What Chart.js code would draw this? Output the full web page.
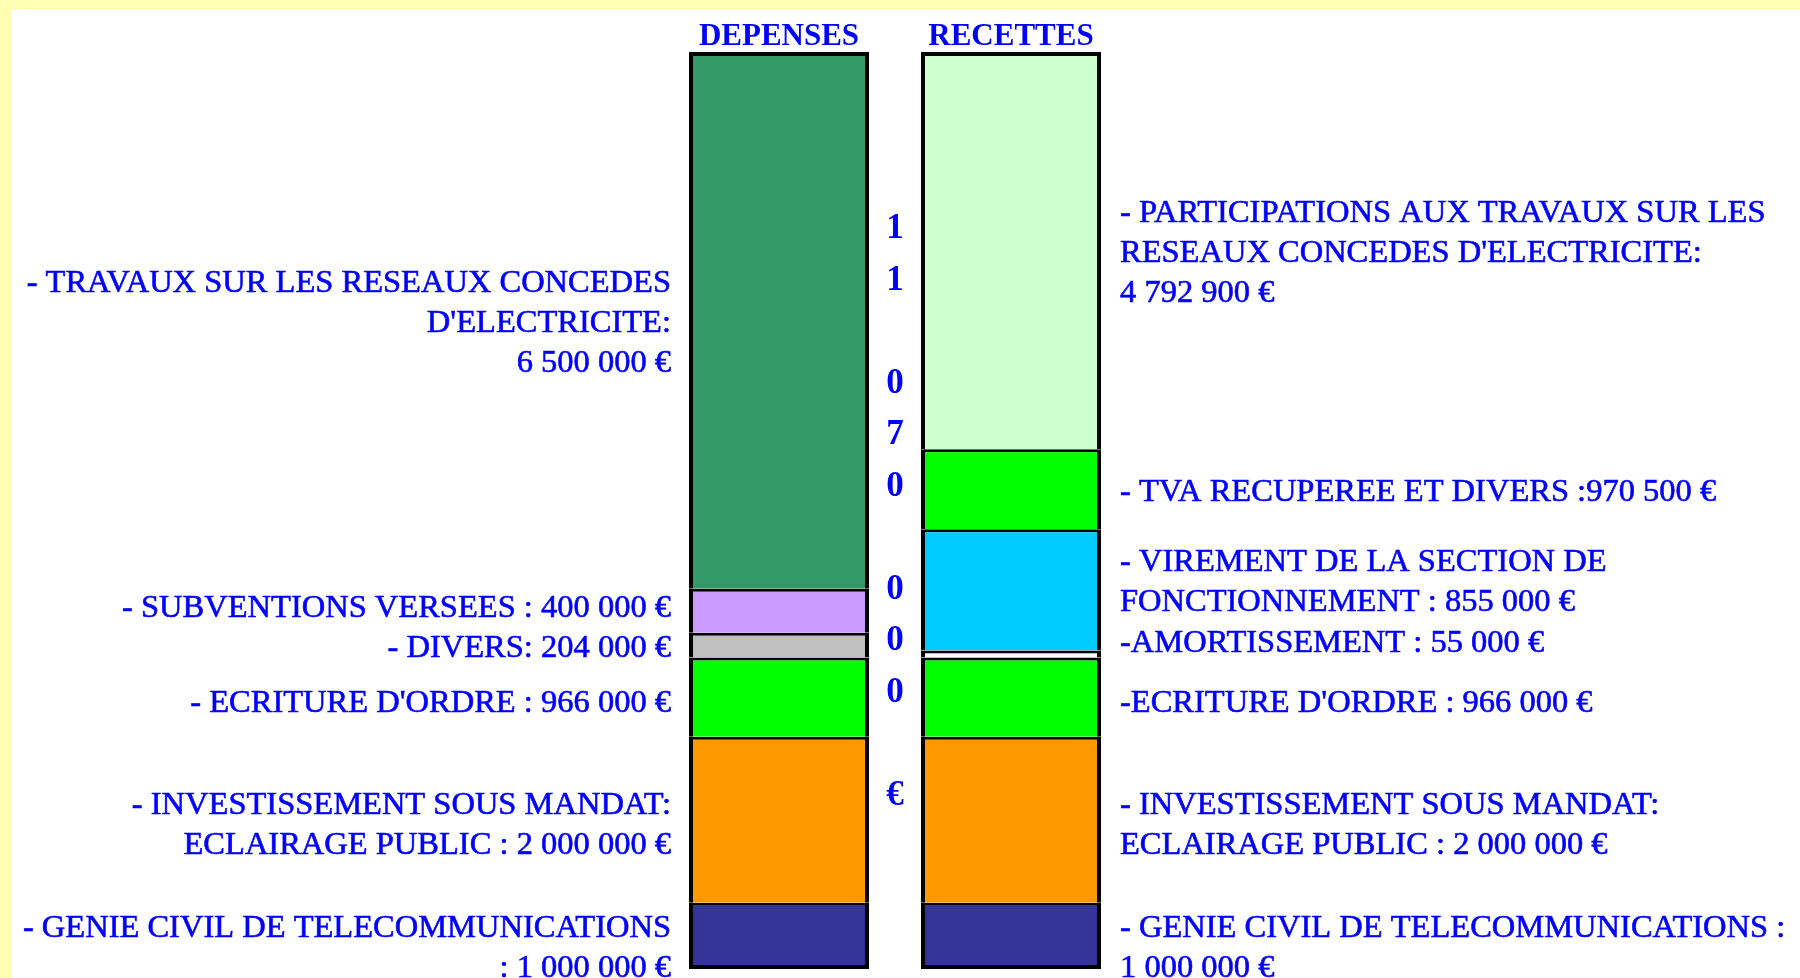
<!DOCTYPE html>
<html>
<head>
<meta charset="utf-8">
<script src="https://cdn.jsdelivr.net/npm/chart.js@4"></script>
<style>
    body { margin: 0; background: #FFFFB3; width: 1800px; height: 978px; overflow: hidden; }
    #wrap { position: absolute; left: 11px; top: 9px; width: 1789px; height: 969px; background: #FFFFFF; }
</style>
</head>
<body>
<div id="wrap"><canvas id="myChart" width="1789" height="969"></canvas></div>
<script>
// two stacked columns, segments listed bottom -> top
const categories = ["DEPENSES", "RECETTES"];

// heights as drawn in the picture (euros)
const depensesValues = [800000, 2000000, 955000, 300000, 530000, 6470000];
const recettesValues = [800000, 2000000, 955000, 85000, 1460000, 965000, 4790000];

const depensesColors = ["#333399", "#FF9900", "#00FF00", "#C0C0C0", "#CC99FF", "#339966"];
const recettesColors = ["#333399", "#FF9900", "#00FF00", "#FFFFFF", "#00CCFF", "#00FF00", "#CCFFCC"];

const depensesLabels = [
    ["- GENIE CIVIL DE TELECOMMUNICATIONS", ": 1 000 000 €"],
    ["- INVESTISSEMENT SOUS MANDAT:", "ECLAIRAGE PUBLIC : 2 000 000 €"],
    ["- ECRITURE D'ORDRE : 966 000 €"],
    ["- DIVERS: 204 000 €"],
    ["- SUBVENTIONS VERSEES : 400 000 €"],
    ["- TRAVAUX SUR LES RESEAUX CONCEDES", "D'ELECTRICITE:", "6 500 000 €"]
];
const recettesLabels = [
    ["- GENIE CIVIL DE TELECOMMUNICATIONS :", "1 000 000 €"],
    ["- INVESTISSEMENT SOUS MANDAT:", "ECLAIRAGE PUBLIC : 2 000 000 €"],
    ["-ECRITURE D'ORDRE : 966 000 €"],
    ["-AMORTISSEMENT : 55 000 €"],
    ["- VIREMENT DE LA SECTION DE", "FONCTIONNEMENT : 855 000 €"],
    ["- TVA RECUPEREE ET DIVERS :970 500 €"],
    ["- PARTICIPATIONS AUX TRAVAUX SUR LES", "RESEAUX CONCEDES D'ELECTRICITE:", "4 792 900 €"]
];

const totalLabel = "11 070 000 €";

// small vertical nudges of the label blocks (px)
const depensesNudge = [10, 3, 3, 0, -5, 0];
const recettesNudge = [10, 3, 3, -14, -10, 0, 0];

const BLUE = "#0000FF";
const SERIF = "'Liberation Serif', 'Times New Roman', serif";

const levels = Math.max(depensesValues.length, recettesValues.length);
const datasets = [];
for (let i = 0; i < levels; i++) {
    datasets.push({
        data: [depensesValues[i] ?? null, recettesValues[i] ?? null],
        backgroundColor: [depensesColors[i] || "#fff", recettesColors[i] || "#fff"],
        borderColor: "#000000",
        borderWidth: (c) => {
            const topMost = c.dataIndex === 0 ? i === depensesValues.length - 1 : i === recettesValues.length - 1;
            return { top: topMost ? 4 : 3, left: 4, right: 4, bottom: i === 0 ? 4 : 0 };
        },
        borderSkipped: false,
        inflateAmount: 0,
        clip: false
    });
}

const sum = arr => arr.reduce((a, b) => a + b, 0);
const yMax = Math.max(sum(depensesValues), sum(recettesValues));

const textPlugin = {
    id: "texts",
    afterDraw(chart) {
        const ctx = chart.ctx;
        const area = chart.chartArea;
        const xs = chart.scales.x;
        ctx.save();
        ctx.fillStyle = BLUE;
        ctx.strokeStyle = BLUE;

        // column titles
        ctx.font = "bold 31px " + SERIF;
        ctx.textAlign = "center";
        ctx.textBaseline = "middle";
        categories.forEach((c, i) => {
            ctx.fillText(c, xs.getPixelForValue(i), area.top - 15);
        });

        // vertical total between the columns
        ctx.font = "bold 35px " + SERIF;
        const midX = (xs.getPixelForValue(0) + xs.getPixelForValue(1)) / 2;
        const step = 51.5;
        const chars = totalLabel.split("");
        const midY = (area.top + area.bottom) / 2 + 2;
        const y0 = midY - (chars.length - 1) * step / 2;
        chars.forEach((ch, k) => {
            if (ch.trim()) ctx.fillText(ch, midX, y0 + k * step);
        });

        // segment labels
        ctx.font = "32.5px " + SERIF;
        ctx.lineWidth = 0.6;
        const lineH = 40;
        function drawSide(labels, nudge, idx, left) {
            labels.forEach((lines, i) => {
                const el = chart.getDatasetMeta(i).data[idx];
                if (!el) return;
                const cy = (el.y + el.base) / 2 + (nudge[i] || 0) + 3;
                const x = left ? el.x - el.width / 2 - 18 : el.x + el.width / 2 + 19;
                ctx.textAlign = left ? "right" : "left";
                lines.forEach((t, k) => {
                    const y = cy + (k - (lines.length - 1) / 2) * lineH;
                    ctx.fillText(t, x, y);
                    ctx.strokeText(t, x, y);
                });
            });
        }
        drawSide(depensesLabels, depensesNudge, 0, true);
        drawSide(recettesLabels, recettesNudge, 1, false);

        ctx.restore();
    }
};

new Chart(document.getElementById("myChart").getContext("2d"), {
    type: "bar",
    data: { labels: categories, datasets: datasets },
    options: {
        responsive: false,
        animation: false,
        layout: { padding: { left: 652, right: 673, top: 43, bottom: 9 } },
        barThickness: 180,
        scales: {
            x: { stacked: true, display: false },
            y: { stacked: true, display: false, min: 0, max: yMax }
        },
        plugins: {
            legend: { display: false },
            tooltip: { enabled: false }
        }
    },
    plugins: [textPlugin]
});
</script>
</body>
</html>
